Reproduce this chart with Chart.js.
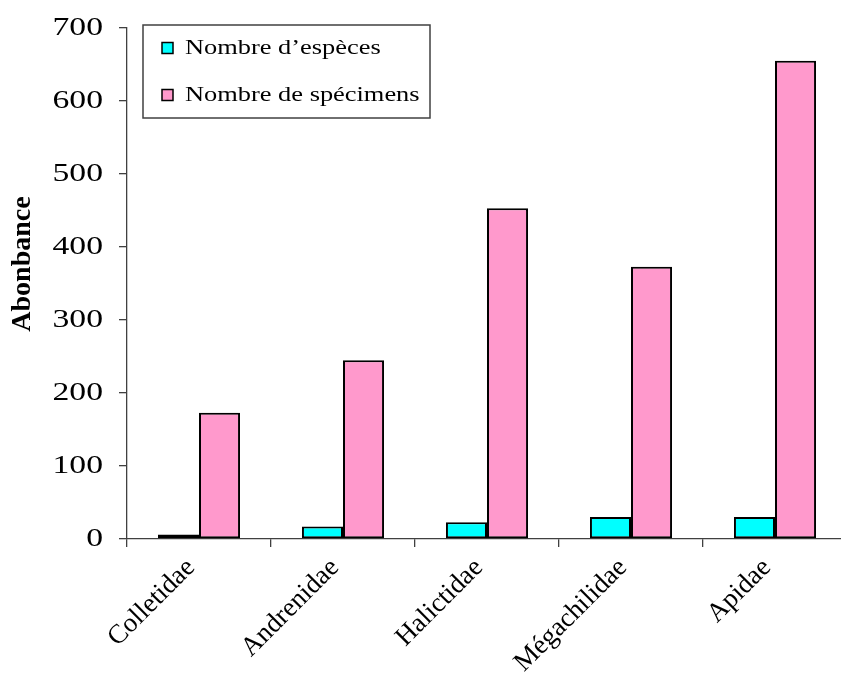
<!DOCTYPE html>
<html lang="fr">
<head>
<meta charset="utf-8">
<title>Abondance des familles d'abeilles</title>
<script src="https://cdn.jsdelivr.net/npm/chart.js@4/dist/chart.umd.min.js"></script>
<style>
  html, body { margin: 0; padding: 0; background: #ffffff; overflow: hidden; }
  #wrap { width: 880px; height: 682px; }
</style>
</head>
<body>
<div id="wrap"><canvas id="c" width="880" height="682"></canvas></div>
<script>
// Familles et effectifs
const families = ['Colletidae', 'Andrenidae', 'Halictidae', 'Mégachilidae', 'Apidae'];
const nbEspeces = [6, 17, 23, 30, 30];
const nbSpecimens = [173, 245, 453, 373, 655];
const seriesLabels = ['Nombre d\u2019espèces', 'Nombre de spécimens'];
const yMin = 0, yMax = 700, yStep = 100;
const yTitle = 'Abonbance';

const SERIF = '"Liberation Serif", "Times New Roman", serif';
const AXIS_GREY = '#404040';

// Horizontal text is set wide: stretch glyphs around their anchor point.
const canvas = document.getElementById('c');
const ctx = canvas.getContext('2d');
const plainFillText = ctx.fillText.bind(ctx);
let flatStretch = 1.32;     // upright labels
let rotatedStretch = 1.0;   // slanted category labels
let stretchOff = false;
ctx.fillText = function (text, x, y, maxWidth) {
  const m = ctx.getTransform();
  const s = stretchOff ? 1 : (Math.abs(m.b) > 1e-6 ? rotatedStretch : flatStretch);
  ctx.save();
  ctx.translate(x, y);
  ctx.scale(s, 1);
  if (maxWidth === undefined) plainFillText(text, 0, 0);
  else plainFillText(text, 0, 0, maxWidth / s);
  ctx.restore();
};

// Framed legend in the upper-left of the plot, plus the vertical axis title.
const decorations = {
  id: 'decorations',
  afterDraw(chart) {
    const c = chart.ctx;
    c.save();
    stretchOff = true;
    c.translate(23, 264);
    c.rotate(-Math.PI / 2);
    c.font = 'bold 28px ' + SERIF;
    c.fillStyle = '#000';
    c.textAlign = 'center';
    c.textBaseline = 'middle';
    c.fillText(yTitle, 0, 0);
    stretchOff = false;
    c.restore();

    c.save();
    const box = { x: 143, y: 25, w: 287, h: 93 };
    c.fillStyle = '#ffffff';
    c.fillRect(box.x, box.y, box.w, box.h);
    c.strokeStyle = AXIS_GREY;
    c.lineWidth = 1.5;
    c.strokeRect(box.x, box.y, box.w, box.h);
    const rows = [48, 95];
    chart.data.datasets.forEach((ds, i) => {
      const cy = rows[i];
      c.fillStyle = ds.backgroundColor;
      c.fillRect(162, cy - 5.5, 11, 11);
      c.strokeStyle = '#000';
      c.lineWidth = 1.5;
      c.strokeRect(162, cy - 5.5, 11, 11);
      c.font = '20px ' + SERIF;
      c.fillStyle = '#000';
      c.textAlign = 'left';
      c.textBaseline = 'middle';
      c.fillText(ds.label, 185, cy + 1);
    });
    c.restore();
  }
};

function draw() {
  new Chart(ctx, {
    type: 'bar',
    data: {
      labels: families,
      datasets: [
        {
          label: seriesLabels[0],
          data: nbEspeces,
          backgroundColor: '#00FFFF',
          borderColor: '#000000',
          borderWidth: 2,
          borderSkipped: false
        },
        {
          label: seriesLabels[1],
          data: nbSpecimens,
          backgroundColor: '#FF99CC',
          borderColor: '#000000',
          borderWidth: 2,
          borderSkipped: false
        }
      ]
    },
    options: {
      responsive: false,
      animation: false,
      devicePixelRatio: 1,
      layout: { padding: { top: 28, right: 33, left: 0, bottom: 0 } },
      datasets: {
        bar: { categoryPercentage: 0.57, barPercentage: 1.0 }
      },
      plugins: {
        legend: { display: false },
        tooltip: { enabled: false },
        title: { display: false }
      },
      scales: {
        x: {
          grid: {
            display: true,
            drawOnChartArea: false,
            drawTicks: true,
            tickLength: 8,
            color: AXIS_GREY,
            lineWidth: 1.3,
            offset: true
          },
          border: { display: true, color: AXIS_GREY, width: 1.3 },
          ticks: {
            color: '#000',
            font: { family: SERIF, size: 27 },
            minRotation: 45,
            maxRotation: 45,
            padding: 5,
            labelOffset: -8,
            autoSkip: false
          },
          afterFit(scale) { scale.height = 143; }
        },
        y: {
          min: yMin,
          max: yMax,
          grid: {
            display: true,
            drawOnChartArea: false,
            drawTicks: true,
            tickLength: 8,
            color: AXIS_GREY,
            lineWidth: 1.3
          },
          border: { display: true, color: AXIS_GREY, width: 1.3 },
          ticks: {
            stepSize: yStep,
            color: '#000',
            font: { family: SERIF, size: 25.5, lineHeight: 0.9 },
            padding: 16
          },
          afterFit(scale) { scale.width = 127; }
        }
      }
    },
    plugins: [decorations]
  });
}

Promise.all([
  document.fonts.load('26px "Liberation Serif"'),
  document.fonts.load('bold 28px "Liberation Serif"')
]).then(draw, draw);
</script>
</body>
</html>
